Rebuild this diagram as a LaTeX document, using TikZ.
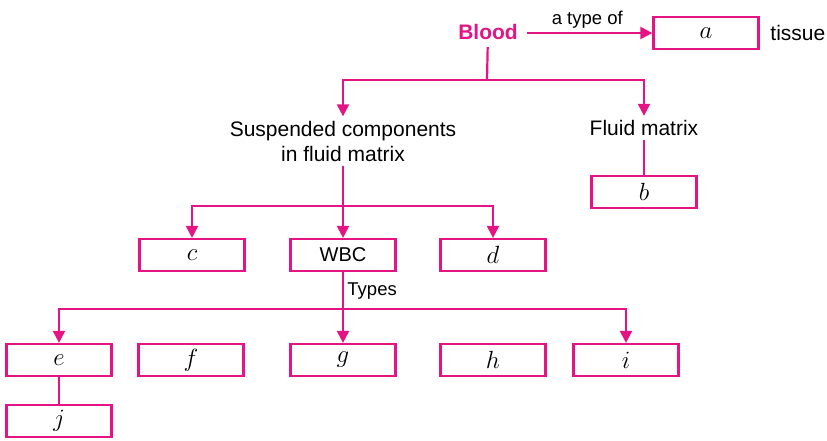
\documentclass[tikz,border=0pt]{standalone}
\usepackage{fontspec}
\setmainfont{Liberation Sans}
\usepackage{tikz}
\usetikzlibrary{arrows.meta,positioning}
\definecolor{bloodpink}{RGB}{228,20,132}

\begin{document}
\begin{tikzpicture}[x=1pt,y=-1pt,>={Triangle[length=12pt,width=12pt]},line width=2.2pt,
  box/.style={draw=bloodpink,line width=2.2pt,minimum width=105pt,minimum height=32pt,
    inner sep=0pt,font=\fontsize{23}{26}\selectfont},
  lbl/.style={font=\fontsize{21}{25}\selectfont,align=center},
  small/.style={font=\fontsize{18.5}{22}\selectfont}]
  \useasboundingbox (0,0) rectangle (827,440);

  \node[lbl,text=bloodpink,font=\bfseries\fontsize{21}{25}\selectfont] (blood) at (488,32) {Blood};
  \node[box]                (a)      at (706,33)  {$a$};
  \node[lbl,anchor=west]    (tissue) at (766,33)  {tissue};
  \node[lbl]                (susp)   at (343,141) {Suspended components\\in fluid matrix};
  \node[lbl]                (fluid)  at (644,128) {Fluid matrix};
  \node[box]                (b)      at (644,192) {$b$};
  \node[box]                (c)      at (192,255) {$c$};
  \node[box,font=\fontsize{20}{24}\selectfont] (wbc) at (343,255) {WBC};
  \node[box]                (d)      at (493,255) {$d$};
  \node[box]                (e)      at (59,360)  {$e$};
  \node[box]                (f)      at (191,360) {$f$};
  \node[box]                (g)      at (343,360) {$g$};
  \node[box]                (h)      at (493,360) {$h$};
  \node[box]                (i)      at (626,360) {$i$};
  \node[box]                (j)      at (59,421)  {$j$};

  \coordinate (split1) at (487,80);
  \coordinate (split2) at (343,206);
  \coordinate (split3) at (343,309);

  \begin{scope}[draw=bloodpink]
    \draw[->,shorten <=5pt] (blood.east |- a.west) -- node[above,small,text=black] {a type of} (a.west);
    \draw[shorten <=3pt] (blood) -- (split1);
    \draw[->] (split1) -| (susp);
    \draw[->] (split1) -| (fluid);
    \draw (fluid) -- (b);
    \draw[->] (susp) -- (wbc);
    \draw[->] (split2) -| (c);
    \draw[->] (split2) -| (d);
    \draw (wbc) -- node[right,small,text=black] {Types} (split3);
    \draw[->] (split3) -- (g);
    \draw[->] (split3) -| (e);
    \draw[->] (split3) -| (i);
    \draw (e) -- (j);
  \end{scope}
\end{tikzpicture}
\end{document}
